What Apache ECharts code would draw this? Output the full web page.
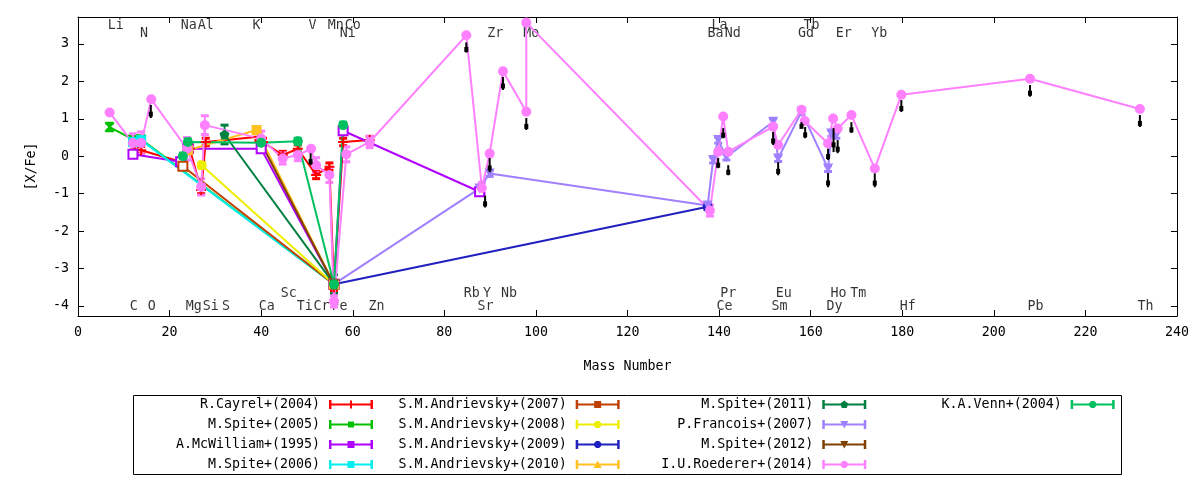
<!DOCTYPE html>
<html>
<head>
<meta charset="utf-8">
<script src="https://cdn.jsdelivr.net/npm/echarts@6/dist/echarts.min.js"></script>
<style>
  html, body { margin: 0; padding: 0; background: #fff; }
  #chart { width: 1200px; height: 480px; }
</style>
</head>
<body>
<div id="chart"></div>
<script>
// [X/Fe] vs mass number, several literature samples
const MONO = 'DejaVu Sans Mono'
const FS = 13.3

// element labels along top and bottom of the frame
const elemName = ['Li', 'Na', 'Al', 'K', 'V', 'Mn', 'Co', 'La', 'Tb',
  'N', 'Ni', 'Zr', 'Mo', 'Ba', 'Nd', 'Gd', 'Er', 'Yb',
  'Sc', 'Rb', 'Y', 'Nb', 'Pr', 'Eu', 'Ho', 'Tm',
  'C', 'O', 'Mg', 'Si', 'S', 'Ca', 'Ti', 'Cr', 'Fe', 'Zn', 'Sr', 'Ce', 'Sm', 'Dy', 'Hf', 'Pb', 'Th']
const elemMass = [8.25, 24.2, 27.9, 39.0, 51.2, 56.3, 60.0, 140.1, 160.2,
  14.4, 58.9, 91.1, 99.0, 139.2, 143.0, 159.0, 167.2, 175.0,
  46.0, 86.0, 89.3, 94.1, 142.0, 154.1, 166.1, 170.4,
  12.2, 16.1, 25.3, 29.0, 32.3, 41.2, 49.5, 53.2, 57.1, 65.2, 89.0, 141.2, 153.2, 165.2, 181.2, 209.1, 233.1]
const elemPos = [3.49, 3.49, 3.49, 3.49, 3.49, 3.49, 3.49, 3.49, 3.49,
  3.27, 3.27, 3.27, 3.27, 3.27, 3.27, 3.27, 3.27, 3.27,
  -3.67, -3.67, -3.67, -3.67, -3.67, -3.67, -3.67, -3.67,
  -4.03, -4.03, -4.03, -4.03, -4.03, -4.03, -4.03, -4.03, -4.03, -4.03, -4.03, -4.03, -4.03, -4.03, -4.03, -4.03, -4.03]

// R.Cayrel+(2004)
const cayrelMass = [12.4, 13.8, 22.4, 24.4, 26.9, 27.9, 39.4, 40.4, 44.7, 48.0, 52.0, 54.9, 55.9, 57.9, 63.7]
const cayrelXFe = [0.18, 0.16, -0.15, 0.2, -0.9, 0.38, 0.52, 0.38, 0.03, 0.2, -0.5, -0.28, -3.5, 0.38, 0.43]
// M.Spite+(2005)
const spite05Mass = [6.9, 12.0, 13.8, 55.9]
const spite05XFe = [0.78, 0.45, 0.45, -3.42]
// A.McWilliam+(1995)
const mcwMass = [12.0, 22.4, 24.0, 40.0, 55.9, 57.9, 87.7]
const mcwXFe = [0.05, -0.15, 0.2, 0.2, -3.42, 0.68, -0.95]
// M.Spite+(2006)
const spite06Mass = [12.0, 13.8, 55.9]
const spite06XFe = [0.38, 0.43, -3.42]
// S.M.Andrievsky+(2007)
const andr07Mass = [22.9, 55.9]
const andr07XFe = [-0.27, -3.42]
// S.M.Andrievsky+(2008)
const andr08Mass = [27.0, 55.9]
const andr08XFe = [-0.24, -3.42]
// S.M.Andrievsky+(2009)
const andr09Mass = [55.9, 137.5]
const andr09XFe = [-3.42, -1.35]
// S.M.Andrievsky+(2010)
const andr10Mass = [24.0, 39.0, 55.9]
const andr10XFe = [0.16, 0.7, -3.42]
// M.Spite+(2011)
const spite11Mass = [32.0, 55.9]
const spite11XFe = [0.58, -3.42]
// P.Francois+(2007)
const francMass = [55.9, 87.7, 89.9, 137.5, 138.7, 139.8, 141.6, 151.8, 152.9, 158.0, 163.8, 164.5, 165.6]
const francXFe = [-3.42, -0.86, -0.46, -1.32, -0.1, 0.43, -0.02, 0.92, -0.06, 1.19, -0.33, 0.61, 0.56]
// M.Spite+(2012)
const spite12Mass = [40.0, 55.9]
const spite12XFe = [0.35, -3.42]
// I.U.Roederer+(2014)
const roedMass = [6.9, 12.0, 13.8, 16.0, 23.8, 26.9, 27.7, 40.0, 44.7, 48.0, 50.9, 52.0, 54.9, 55.9, 58.6, 63.7,
  84.8, 88.2, 89.9, 92.8, 97.9, 97.9, 138.0, 139.8, 140.9, 142.0, 151.8, 152.9, 158.0, 158.7,
  163.8, 164.9, 165.9, 168.9, 174.0, 179.8, 207.9, 231.9]
const roedXFe = [1.17, 0.35, 0.35, 1.52, 0.2, -0.82, 0.83, 0.47, -0.06, 0.03, 0.2, -0.24, -0.5, -3.88, 0.05, 0.38,
  3.23, -0.85, 0.07, 2.27, 1.19, 3.57, -1.45, 0.12, 1.06, 0.12, 0.79, 0.3, 1.24, 0.94,
  0.34, 1.01, 0.74, 1.1, -0.33, 1.64, 2.07, 1.26]
const roedErr = [0, 0.25, 0.3, 0, 0.3, 0.22, 0.25, 0.2, 0.15, 0.15, 0, 0.2, 0.2, 0.15, 0.2, 0.15,
  0, 0.15, 0, 0, 0, 0, 0.15, 0, 0, 0, 0, 0, 0, 0,
  0, 0, 0, 0, 0, 0, 0, 0]
// K.A.Venn+(2004)
const vennMass = [22.9, 24.0, 40.0, 48.0, 55.9, 57.9]
const vennXFe = [0.0, 0.38, 0.36, 0.4, -3.42, 0.83]

// upper limits (black marks)
const limMass = [15.9, 50.8, 84.8, 88.9, 89.9, 92.8, 97.9, 139.8, 140.9, 142.0, 151.8, 152.9, 158.0, 158.8,
  163.8, 163.8, 165.0, 165.9, 168.9, 174.0, 179.8, 207.9, 231.9]
const limTop = [1.37, 0.08, 3.04, -1.05, -0.05, 2.12, 1.02, -0.05, 0.75, -0.24, 0.65, -0.16, 0.91, 0.78,
  0.2, -0.45, 0.75, 0.43, 0.91, -0.46, 1.5, 1.9, 1.1]
const limBot = [1.02, -0.24, 2.77, -1.37, -0.43, 1.77, 0.7, -0.32, 0.48, -0.51, 0.3, -0.51, 0.75, 0.48,
  -0.1, -0.83, 0.11, 0.08, 0.62, -0.83, 1.18, 1.59, 0.78]

const SYM = {
  plus: 'path://M4,0h2v10h-2zM0,4h10v2h-10z',
  cross: 'path://M1,0L5,3.6L9,0L10,1L6.4,5L10,9L9,10L5,6.4L1,10L0,9L3.6,5L0,1Z',
  pent: 'path://M5,0L10,3.8L8.1,10H1.9L0,3.8Z',
  down: 'path://M0,0H10L5,9Z'
}
const ICON_BASE = 'M0,0h2.5v9h-2.5zM41.5,0h2.5v9h-2.5zM0,3.5h44v2h-44z'
const ICON_MARK = {
  plus: 'M21,0.5h2v8h-2z',
  cross: 'M19,1.5h6v6h-6z',
  rect: 'M18.5,1h7v7h-7z',
  circle: 'M20.5,1H23.5L25.5,3V6L23.5,8H20.5L18.5,6V3Z',
  up: 'M22,0.5L26,8H18Z',
  down: 'M18,1H26L22,8.5Z',
  pent: 'M22,0.5L26,3.5L24.5,8H19.5L18,3.5Z'
}

const sets = [
  ['R.Cayrel+(2004)', '#ff0000', 'plus', cayrelMass, cayrelXFe, 0.1],
  ['M.Spite+(2005)', '#00c000', 'cross', spite05Mass, spite05XFe, 0.1],
  ['A.McWilliam+(1995)', '#b000ff', 'rect', mcwMass, mcwXFe, 0.08],
  ['M.Spite+(2006)', '#00eeee', 'rect', spite06Mass, spite06XFe, 0.1],
  ['S.M.Andrievsky+(2007)', '#c04000', 'rect', andr07Mass, andr07XFe, 0.08],
  ['S.M.Andrievsky+(2008)', '#eeee00', 'circle', andr08Mass, andr08XFe, 0.08],
  ['S.M.Andrievsky+(2009)', '#2020c0', 'circle', andr09Mass, andr09XFe, 0.08],
  ['S.M.Andrievsky+(2010)', '#ffc020', 'up', andr10Mass, andr10XFe, 0.08],
  ['M.Spite+(2011)', '#008040', 'pent', spite11Mass, spite11XFe, 0.25],
  ['P.Francois+(2007)', '#a080ff', 'down', francMass, francXFe, 0.08],
  ['M.Spite+(2012)', '#804000', 'down', spite12Mass, spite12XFe, 0.08],
  ['I.U.Roederer+(2014)', '#ff80ff', 'circle', roedMass, roedXFe, roedErr],
  ['K.A.Venn+(2004)', '#00c060', 'circle', vennMass, vennXFe, 0.08]
]

function errorBars(color) {
  return function (params, api) {
    const x = api.value(0), y = api.value(1), e = api.value(2)
    if (!e) return null
    const t = api.coord([x, y + e]), b = api.coord([x, y - e])
    const s = { stroke: color, lineWidth: 2 }
    const c = { stroke: color, lineWidth: 3 }
    return {
      type: 'group',
      children: [
        { type: 'line', shape: { x1: t[0], y1: t[1], x2: b[0], y2: b[1] }, style: s },
        { type: 'line', shape: { x1: t[0] - 4, y1: t[1], x2: t[0] + 4, y2: t[1] }, style: c },
        { type: 'line', shape: { x1: b[0] - 4, y1: b[1], x2: b[0] + 4, y2: b[1] }, style: c }
      ]
    }
  }
}

function limitMark(params, api) {
  const x = api.value(0)
  const t = api.coord([x, api.value(1)]), b = api.coord([x, api.value(2)])
  const my = t[1] + (b[1] - t[1]) * 0.7
  return {
    type: 'group',
    children: [
      { type: 'line', shape: { x1: t[0], y1: t[1], x2: b[0], y2: b[1] }, style: { stroke: '#000', lineWidth: 2 } },
      { type: 'rect', shape: { x: t[0] - 2, y: my - 2.5, width: 4, height: 5 }, style: { fill: '#000' } }
    ]
  }
}

const series = [{
  type: 'scatter',
  silent: true,
  z: 1,
  symbolSize: 1,
  itemStyle: { color: 'rgba(0,0,0,0)' },
  label: { show: true, position: 'inside', formatter: p => p.data[2], color: '#000', fontFamily: MONO, fontSize: FS },
  data: elemName.map((n, i) => [elemMass[i], elemPos[i], n])
}]

sets.forEach(([name, color, sym, xs, ys, err]) => {
  series.push({
    type: 'custom',
    name: name,
    silent: true,
    itemStyle: { color: color },
    renderItem: errorBars(color),
    data: xs.map((x, i) => [x, ys[i], Array.isArray(err) ? err[i] : err])
  })
  const open = (name === 'A.McWilliam+(1995)' || name === 'S.M.Andrievsky+(2007)')
  series.push({
    type: 'line',
    name: name,
    silent: true,
    data: xs.map((x, i) => [x, ys[i]]),
    symbol: open ? 'emptyRect' : (SYM[sym] || sym),
    symbolSize: open ? 9 : 10,
    showSymbol: true,
    lineStyle: { color: color, width: 2 },
    itemStyle: { color: color, borderColor: color, borderWidth: open ? 2 : 0 }
  })
})

series.push({
  type: 'custom',
  silent: true,
  z: 5,
  renderItem: limitMark,
  data: limMass.map((x, i) => [x, limTop[i], limBot[i]])
})

// legend in four columns, text right-aligned before the sample
const columns = [sets.slice(0, 4), sets.slice(4, 8), sets.slice(8, 12), sets.slice(12)]
const textEnds = [320, 566.7, 813.3, 1061.7]
const legends = columns.map((col, c) => ({
  orient: 'vertical',
  left: textEnds[c] - 21 * 0.602 * FS,
  top: 398,
  padding: 0,
  align: 'right',
  itemGap: 7,
  itemWidth: 44,
  itemHeight: 9,
  selectedMode: false,
  textStyle: { fontFamily: MONO, fontSize: FS, color: '#000', padding: [0, 4, 0, 0] },
  formatter: n => n.padStart(21, ' '),
  data: col.map(s => ({
    name: s[0],
    icon: 'path://' + ICON_BASE + ICON_MARK[s[2]],
    itemStyle: { color: s[1], borderWidth: 0 }
  }))
}))

const axisCommon = {
  axisLine: { show: true, onZero: false, lineStyle: { color: '#000', width: 1 } },
  axisTick: { show: true, inside: true, length: 6, lineStyle: { color: '#000', width: 1 } },
  splitLine: { show: false }
}

const option = {
  animation: false,
  backgroundColor: '#fff',
  grid: { left: 78, right: 23, top: 17, bottom: 164, containLabel: false },
  legend: legends,
  graphic: [{
    type: 'rect',
    shape: { x: 133.5, y: 395.5, width: 988, height: 79 },
    style: { fill: 'none', stroke: '#000', lineWidth: 1 }
  }],
  xAxis: [
    Object.assign({
      type: 'value', min: 0, max: 240, interval: 20, position: 'bottom',
      name: 'Mass Number', nameLocation: 'middle', nameGap: 44,
      nameTextStyle: { fontFamily: MONO, fontSize: FS, color: '#000' },
      axisLabel: { color: '#000', fontFamily: MONO, fontSize: FS, margin: 10 }
    }, axisCommon),
    Object.assign({
      type: 'value', min: 0, max: 240, interval: 20, position: 'top',
      axisLabel: { show: false }
    }, axisCommon)
  ],
  yAxis: [
    Object.assign({
      type: 'value', min: -4.27, max: 3.72, splitNumber: 8, position: 'left',
      name: '[X/Fe]', nameLocation: 'middle', nameGap: 40, nameRotate: 90,
      nameTextStyle: { fontFamily: MONO, fontSize: FS, color: '#000' },
      axisLabel: { color: '#000', fontFamily: MONO, fontSize: FS, margin: 9, showMinLabel: false, showMaxLabel: false }
    }, axisCommon),
    Object.assign({
      type: 'value', min: -4.27, max: 3.72, splitNumber: 8, position: 'right',
      axisLabel: { show: false }
    }, axisCommon)
  ],
  series: series
}

const chart = echarts.init(document.getElementById('chart'))
chart.setOption(option)
</script>
</body>
</html>
